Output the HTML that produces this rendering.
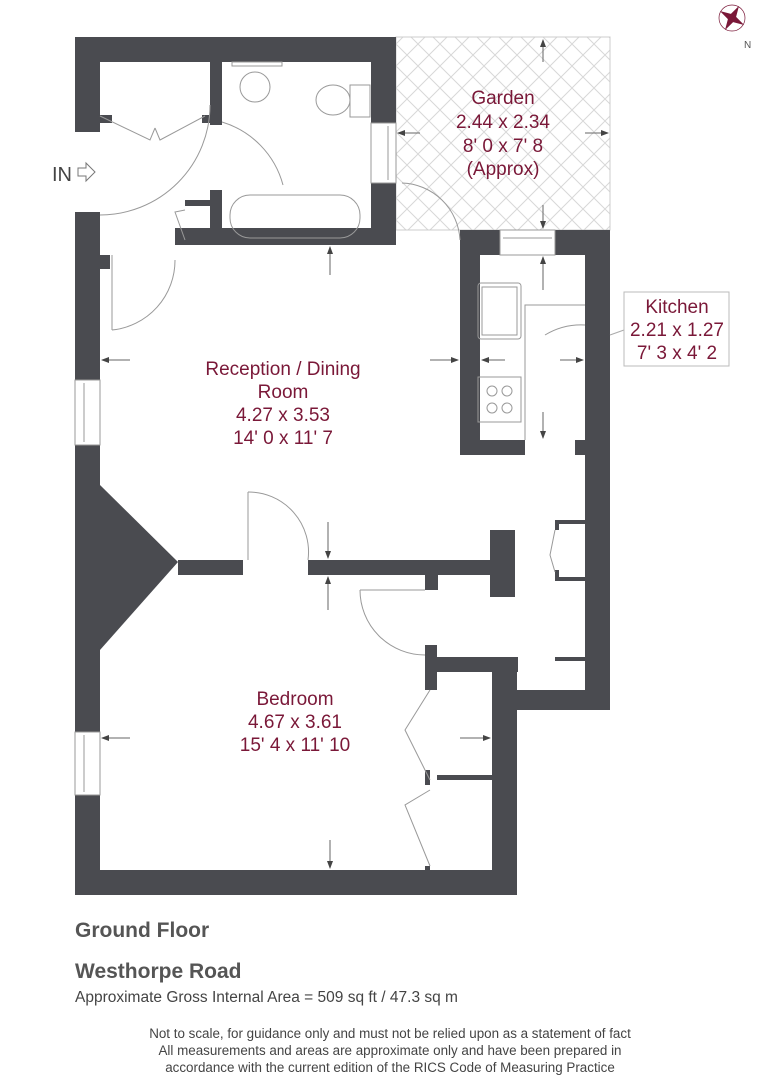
<!DOCTYPE html>
<html><head><meta charset="utf-8"><style>
html,body{margin:0;padding:0;background:#fff;width:780px;height:1080px;overflow:hidden}
svg{display:block}
.t{font-family:"Liberation Sans",sans-serif;fill:#7a1838;font-size:19px;text-anchor:middle}
.g{font-family:"Liberation Sans",sans-serif;fill:#555;}
</style></head><body>
<svg width="780" height="1080" viewBox="0 0 780 1080" xmlns="http://www.w3.org/2000/svg">
<defs>
<pattern id="h" width="22" height="22" patternUnits="userSpaceOnUse">
<path d="M0 0L22 22M22 0L0 22" stroke="#d8d8d8" stroke-width="1"/>
</pattern>
<marker id="a" markerWidth="8" markerHeight="8" refX="7" refY="4" orient="auto"><path d="M0 1L8 4L0 7z" fill="#444"/></marker>
</defs>
<rect x="396" y="37" width="214" height="193" fill="url(#h)" stroke="#ccc"/>
<g fill="#4a4b50">
<rect x="75" y="37" width="321" height="25"/>
<rect x="75" y="37" width="25" height="95"/>
<rect x="100" y="115" width="12" height="8"/>
<rect x="210" y="37" width="12" height="88"/>
<rect x="202" y="115" width="10" height="8"/>
<rect x="371" y="37" width="25" height="86"/>
<rect x="371" y="183" width="25" height="62"/>
<rect x="175" y="228" width="221" height="17"/>
<rect x="210" y="190" width="12" height="55"/>
<rect x="185" y="200" width="25" height="6"/>
<rect x="75" y="212" width="25" height="168"/>
<rect x="100" y="255" width="10" height="14"/>
<rect x="75" y="445" width="25" height="287"/>
<path d="M100 485L178 562L100 650Z"/>
<rect x="75" y="795" width="25" height="100"/>
<rect x="75" y="870" width="442" height="25"/>
<rect x="178" y="560" width="65" height="15"/>
<rect x="308" y="560" width="185" height="15"/>
<rect x="490" y="530" width="25" height="67"/>
<rect x="425" y="570" width="13" height="20"/>
<rect x="425" y="657" width="93" height="15"/>
<rect x="425" y="645" width="12" height="45"/>
<rect x="492" y="672" width="25" height="223"/>
<rect x="437" y="775" width="55" height="5"/>
<rect x="425" y="770" width="5" height="15"/>
<rect x="425" y="866" width="5" height="5"/>
<rect x="517" y="690" width="93" height="20"/>
<rect x="555" y="657" width="30" height="4"/>
<rect x="585" y="230" width="25" height="480"/>
<rect x="460" y="230" width="40" height="25"/>
<rect x="555" y="230" width="55" height="25"/>
<rect x="460" y="230" width="20" height="225"/>
<rect x="460" y="440" width="65" height="15"/>
<rect x="575" y="440" width="12" height="15"/>
<rect x="555" y="520" width="30" height="4"/>
<rect x="555" y="520" width="4" height="10"/>
<rect x="555" y="577" width="30" height="4"/>
<rect x="555" y="570" width="4" height="10"/>
</g>
<g fill="none" stroke="#999" stroke-width="1">
<rect x="75" y="380" width="25" height="65"/><line x1="84" y1="383" x2="84" y2="442"/>
<rect x="75" y="732" width="25" height="63"/><line x1="84" y1="735" x2="84" y2="792"/>
<rect x="371" y="123" width="25" height="60"/><line x1="388" y1="126" x2="388" y2="180"/>
<rect x="500" y="230" width="55" height="25"/><line x1="503" y1="238" x2="552" y2="238"/>
<rect x="230" y="195" width="130" height="43" rx="20"/>
<circle cx="255" cy="87" r="15"/><rect x="232" y="62" width="50" height="4"/>
<ellipse cx="333" cy="100" rx="17" ry="15"/><rect x="350" y="85" width="20" height="32"/>
<rect x="478" y="283" width="43" height="56" rx="3"/><rect x="482" y="287" width="35" height="48"/>
<rect x="478" y="377" width="43" height="45"/>
<circle cx="492" cy="391" r="5"/><circle cx="507" cy="391" r="5"/><circle cx="492" cy="408" r="5"/><circle cx="507" cy="408" r="5"/>
<polyline points="525,440 525,305 585,305"/>
<path d="M100 215 A110 110 0 0 0 210 105"/>
<polyline points="100,116 150,140 155,128"/><polyline points="205,116 160,140 155,128"/>
<path d="M112 330 A 70 70 0 0 0 175 260"/><line x1="112" y1="255" x2="112" y2="330"/>
<path d="M222 122 A 90 90 0 0 1 283 185"/>
<path d="M402 183 A 60 60 0 0 1 460 240"/>
<line x1="248" y1="492" x2="248" y2="560"/><path d="M248 492 A 60 60 0 0 1 308 560"/>
<line x1="360" y1="590" x2="425" y2="590"/><path d="M360 590 A 65 65 0 0 0 425 655"/>
<polyline points="430,690 405,730 430,780"/><polyline points="430,790 405,805 430,866"/>
<polyline points="185,210 175,212 185,240"/>
<polyline points="555,530 550,555 555,572"/>
<path d="M585 325 A70 70 0 0 0 545 335"/>
<polyline points="610,335 624,330" stroke="#aaa"/>
</g>
<g stroke="#666" stroke-width="1" marker-end="url(#a)">
<line x1="543" y1="62" x2="543" y2="40"/><line x1="543" y1="205" x2="543" y2="228"/>
<line x1="420" y1="133" x2="398" y2="133"/><line x1="585" y1="133" x2="608" y2="133"/>
<line x1="330" y1="275" x2="330" y2="247"/>
<line x1="130" y1="360" x2="102" y2="360"/><line x1="430" y1="360" x2="458" y2="360"/>
<line x1="505" y1="360" x2="482" y2="360"/><line x1="560" y1="360" x2="583" y2="360"/>
<line x1="543" y1="290" x2="543" y2="257"/><line x1="543" y1="412" x2="543" y2="438"/>
<line x1="328" y1="522" x2="328" y2="558"/><line x1="328" y1="610" x2="328" y2="577"/>
<line x1="130" y1="738" x2="102" y2="738"/><line x1="460" y1="738" x2="490" y2="738"/>
<line x1="330" y1="840" x2="330" y2="868"/>
</g>
<text x="52" y="181" class="g" style="font-size:20px;fill:#444">IN</text>
<path d="M78 168h8v-5l9 9-9 9v-5h-8z" fill="none" stroke="#777"/>
<g transform="translate(732,18)"><path d="M0 -14L3 -3L14 0L3 3L0 14L-3 3L-14 0L-3 -3Z" fill="#7a1838" transform="rotate(30)"/><circle r="13" fill="none" stroke="#7a1838" stroke-width="0.7"/></g>
<text x="744" y="48" class="g" style="font-size:10px">N</text>
<text class="t" x="503" y="104">Garden</text>
<text class="t" x="503" y="128">2.44 x 2.34</text>
<text class="t" x="503" y="152">8' 0 x 7' 8</text>
<text class="t" x="503" y="175">(Approx)</text>
<text class="t" x="283" y="375">Reception / Dining</text>
<text class="t" x="283" y="398">Room</text>
<text class="t" x="283" y="421">4.27 x 3.53</text>
<text class="t" x="283" y="444">14' 0 x 11' 7</text>
<text class="t" x="295" y="705">Bedroom</text>
<text class="t" x="295" y="728">4.67 x 3.61</text>
<text class="t" x="295" y="751">15' 4 x 11' 10</text>
<rect x="624" y="292" width="105" height="74" fill="#fff" stroke="#bbb"/>
<text class="t" x="677" y="313">Kitchen</text>
<text class="t" x="677" y="336">2.21 x 1.27</text>
<text class="t" x="677" y="359">7' 3 x 4' 2</text>
<text x="75" y="937" class="g" style="font-size:21px;font-weight:bold">Ground Floor</text>
<text x="75" y="978" class="g" style="font-size:21px;font-weight:bold">Westhorpe Road</text>
<text x="75" y="1002" class="g" style="font-size:15.5px;fill:#444">Approximate Gross Internal Area = 509 sq ft / 47.3 sq m</text>
<g class="g" style="font-size:13.4px;fill:#444;text-anchor:middle">
<text x="390" y="1038">Not to scale, for guidance only and must not be relied upon as a statement of fact</text>
<text x="390" y="1055">All measurements and areas are approximate only and have been prepared in</text>
<text x="390" y="1072">accordance with the current edition of the RICS Code of Measuring Practice</text>
</g>
</svg>
</body></html>
